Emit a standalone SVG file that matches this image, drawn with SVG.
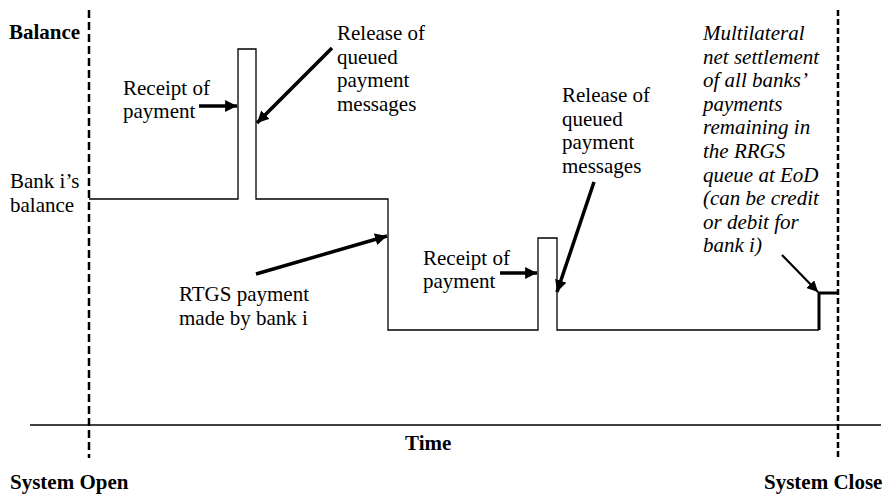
<svg xmlns="http://www.w3.org/2000/svg" width="883" height="495" viewBox="0 0 883 495">
<style>
.t{font-family:'Liberation Serif','Times New Roman','DejaVu Serif',serif;font-size:21px;fill:#000}
.b{font-weight:bold}
.i{font-style:italic}
.thin{fill:none;stroke:#000;stroke-width:1.3}
.arr{fill:none;stroke:#000;stroke-width:3.5}
.dash{fill:none;stroke:#000;stroke-width:2.5}
</style>
<defs>
<marker id="ah" viewBox="0 0 10 10" refX="10" refY="5" markerWidth="3.4" markerHeight="3.4" markerUnits="strokeWidth" orient="auto">
<path d="M0,0 L10,5 L0,10 z" fill="#000"/>
</marker>
<marker id="ah2" viewBox="0 0 10 10" refX="10" refY="5" markerWidth="5" markerHeight="5" markerUnits="strokeWidth" orient="auto">
<path d="M0,0 L10,5 L0,10 z" fill="#000"/>
</marker>
</defs>
<g id="axes">
<line class="dash" x1="89" y1="10" x2="89" y2="458" stroke-dasharray="8,4"/>
<line class="dash" x1="838" y1="10" x2="838" y2="458" stroke-width="3" stroke-dasharray="6,3"/>
<line class="thin" x1="30" y1="425" x2="881" y2="425"/>
</g>
<g id="balance-line">
<polyline class="thin" points="89,199 238,199 238,49 256,49 256,199 388,199 388,330 538,330 538,238 557,238 557,330 819,330"/>
<polyline fill="none" stroke="#000" stroke-width="3" points="819,330 819,293 838,293"/>
</g>
<g class="t" font-family="Liberation Serif, Times New Roman, serif" font-size="21">
<g id="labels">
<text class="b" x="9" y="39">Balance</text>
<text x="10" y="188">Bank i’s</text>
<text x="10" y="212">balance</text>
<text class="b" x="405" y="450">Time</text>
<text class="b" x="10" y="489">System Open</text>
<text class="b" x="764" y="489">System Close</text>
</g>
<g id="receipt1">
<text x="123" y="95">Receipt of</text>
<text x="123" y="118">payment</text>
</g>
<g id="release1">
<text x="337" y="40">Release of</text>
<text x="337" y="63.5">queued</text>
<text x="337" y="87">payment</text>
<text x="337" y="110.5">messages</text>
</g>
<g id="rtgs">
<text x="179" y="301">RTGS payment</text>
<text x="179" y="325">made by bank i</text>
</g>
<g id="receipt2">
<text x="423" y="265">Receipt of</text>
<text x="423" y="288">payment</text>
</g>
<g id="release2">
<text x="562" y="102">Release of</text>
<text x="562" y="125.5">queued</text>
<text x="562" y="149">payment</text>
<text x="562" y="172.5">messages</text>
</g>
<g id="multilateral">
<text class="i" x="703" y="40">Multilateral</text>
<text class="i" x="703" y="63.6">net settlement</text>
<text class="i" x="703" y="87.2">of all banks’</text>
<text class="i" x="703" y="110.8">payments</text>
<text class="i" x="703" y="134.4">remaining in</text>
<text class="i" x="703" y="158">the RRGS</text>
<text class="i" x="703" y="181.6">queue at EoD</text>
<text class="i" x="703" y="205.2">(can be credit</text>
<text class="i" x="703" y="228.8">or debit for</text>
<text class="i" x="703" y="252.4">bank i)</text>
</g>
</g>
<g id="connectors">
<line class="arr" x1="199" y1="106" x2="237" y2="106" marker-end="url(#ah)"/>
<line class="arr" x1="332" y1="48" x2="257" y2="123" marker-end="url(#ah)"/>
<line class="arr" x1="256" y1="274" x2="387" y2="236" marker-end="url(#ah)"/>
<line class="arr" x1="500" y1="273" x2="537" y2="273" marker-end="url(#ah)"/>
<line class="arr" x1="594" y1="182" x2="557" y2="292" marker-end="url(#ah)"/>
<line fill="none" stroke="#000" stroke-width="2.2" x1="782" y1="255" x2="818" y2="292" marker-end="url(#ah2)"/>
</g>
</svg>
